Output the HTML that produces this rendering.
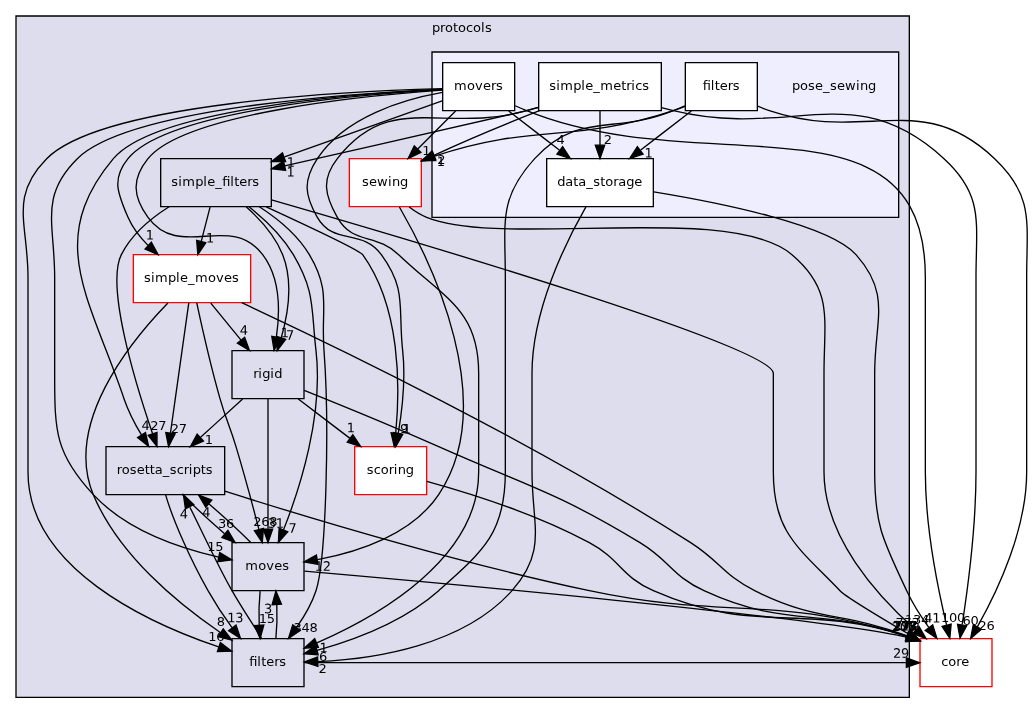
<!DOCTYPE html>
<html lang="en">
<head>
<meta charset="utf-8">
<title>source/src/protocols/pose_sewing directory dependency graph</title>
<style>
html,body{margin:0;padding:0;background:#fff;}
body{width:1033px;height:713px;overflow:hidden;}
svg{display:block;will-change:transform;}
svg text{font-family:"DejaVu Sans","Liberation Sans",sans-serif;font-size:9.75px;fill:#000;}
</style>
</head>
<body>
<svg width="1033px" height="713px"
 viewBox="0 0 774.75 534.75">
<desc>Directory dependency graph for pose_sewing. Cluster protocols contains simple_filters, sewing, simple_moves, rigid, rosetta_scripts, scoring, moves, filters and the cluster pose_sewing with movers, simple_metrics, filters, data_storage. External directory: core.</desc>
<g id="graph0" class="graph" transform="translate(4 531)">
<polygon fill="white" stroke="none" points="-4,4 -4,-531 770.5,-531 770.5,4 -4,4"/>
<g id="clust1" class="cluster">
<g><polygon fill="#ddddee" stroke="black" points="8,-8 8,-519 678,-519 678,-8 8,-8"/>
<text x="320 326 329.75 335.75 339.5 345.5 350.75 356.75 359.75" y="-507">protocols</text>
</g>
</g>
<g id="clust2" class="cluster">
<g><polygon fill="#eeeeff" stroke="black" points="320,-368 320,-492 670,-492 670,-368 320,-368"/>
</g>
</g>
<g id="node1" class="node">
<g><polygon fill="none" stroke="black" points="199.5,-412 116.5,-412 116.5,-376 199.5,-376 199.5,-412"/>
<text y="-391.5"><tspan x="124.438 129.688 132.688 142.438 148.438 151.438 157.438">simple_</tspan><tspan x="162.688">fi</tspan><tspan x="168.688 171.688 175.438 181.438 185.188">lters</tspan></text>
</g>
</g>
<g id="node3" class="node">
<g><polygon fill="white" stroke="red" points="184,-340 96,-340 96,-304 184,-304 184,-340"/>
<text x="104 109.25 112.25 122 128 131 137 142.25 152 158 164 170" y="-319.5">simple_moves</text>
</g>
</g>
<g id="edge1" class="edge">
<path fill="none" stroke="black" d="M153.55,-375.7C151.55,-367.9 149.13,-358.51 146.9,-349.83"/>
<polygon fill="black" stroke="black" points="150.28,-348.92 144.4,-340.1 143.5,-350.66 150.28,-348.92"/>
<text transform="matrix(1 .0005 0 1 150.5 -349.19)" x="0" y="0">1</text>
</g>
<g id="node4" class="node">
<g><polygon fill="none" stroke="black" points="224,-268 170,-268 170,-232 224,-232 224,-268"/>
<text x="185.938 189.688 192.688 198.688 201.688" y="-247.5">rigid</text>
</g>
</g>
<g id="edge2" class="edge">
<path fill="none" stroke="black" d="M180.6,-375.96C191.06,-366.63 202.4,-354.11 208,-340 215.92,-320.07 212.13,-295.82 206.94,-277.67"/>
<polygon fill="black" stroke="black" points="210.24,-276.51 203.89,-268.03 203.57,-278.62 210.24,-276.51"/>
<text transform="matrix(1 .0005 0 1 210.5 -276.205)" x="0" y="0">7</text>
</g>
<g id="node5" class="node">
<g><polygon fill="none" stroke="black" points="164.5,-196 75.5,-196 75.5,-160 164.5,-160 164.5,-196"/>
<text x="83.562 87.312 93.312 98.562 104.562 108.312 112.062 118.062 123.312 128.562 133.812 137.562 140.562 146.562 150.312" y="-175.5">rosetta_scripts</text>
</g>
</g>
<g id="edge3" class="edge">
<path fill="none" stroke="black" d="M122.83,-375.94C109.02,-367.25 94.65,-355.26 87,-340 75.35,-316.77 96.99,-245.09 110.44,-205.67"/>
<polygon fill="black" stroke="black" points="113.76,-206.75 113.74,-196.16 107.15,-204.46 113.76,-206.75"/>
<text x="108.688 114.688" y="-208.58">27</text>
</g>
<g id="node6" class="node">
<g><polygon fill="white" stroke="red" points="316,-196 262,-196 262,-160 316,-160 316,-196"/>
<text x="271.062 276.312 281.562 287.562 291.312 294.312 300.312" y="-175.5">scoring</text>
</g>
</g>
<g id="edge4" class="edge">
<path fill="none" stroke="black" d="M195.64,-375.9C226.54,-361.7 265.62,-343.3 268,-340 296.53,-300.52 296.11,-240.98 292.83,-206.45"/>
<polygon fill="black" stroke="black" points="296.27,-205.73 291.69,-196.18 289.31,-206.5 296.27,-205.73"/>
<text x="296" y="-206.5">9</text>
</g>
<g id="node7" class="node">
<g><polygon fill="none" stroke="black" points="224,-124 170,-124 170,-88 224,-88 224,-124"/>
<text x="179.938 189.688 195.688 201.688 207.688" y="-103.5">moves</text>
</g>
</g>
<g id="edge5" class="edge">
<path fill="none" stroke="black" d="M182.7,-375.97C194.45,-366.64 207.71,-354.11 216,-340 232.65,-311.65 229.2,-300.66 233,-268 238.59,-220 221.17,-165.33 208.65,-133.63"/>
<polygon fill="black" stroke="black" points="211.81,-132.12 204.79,-124.19 205.33,-134.77 211.81,-132.12"/>
<text transform="matrix(1 .0005 0 1 212.375 -131.505)" x="0" y="0">7</text>
</g>
<g id="node8" class="node">
<g><polygon fill="none" stroke="black" points="224,-52 170,-52 170,-16 224,-16 224,-52"/>
<text y="-31.5"><tspan x="182.938">fi</tspan><tspan x="188.938 191.938 195.688 201.688 205.438">lters</tspan></text>
</g>
</g>
<g id="edge6" class="edge">
<path fill="none" stroke="black" d="M190.51,-375.95C204.25,-367.07 219.11,-354.93 228,-340 244.56,-312.19 236.55,-300.28 239,-268 243.12,-213.8 240.81,-111.64 233,-88 229.79,-78.28 224.23,-68.7 218.43,-60.41"/>
<polygon fill="black" stroke="black" points="221.17,-58.23 212.39,-52.3 215.56,-62.41 221.17,-58.23"/>
<text x="216.125 222.125 228.125" y="-56.92">348</text>
</g>
<g id="node14" class="node">
<g><polygon fill="white" stroke="red" points="740,-52 686,-52 686,-16 740,-16 740,-52"/>
<text x="701.938 707.188 713.188 716.938" y="-31.5">core</text>
</g>
</g>
<g id="edge7" class="edge">
<path fill="none" stroke="black" d="M199.61,-381.12C305.34,-350.66 576,-270.74 576,-251 576,-251 576,-251 576,-177 576,-131.63 594.49,-120.64 626,-88 630.21,-83.64 654.87,-68.75 676.86,-55.85"/>
<polygon fill="black" stroke="black" points="678.87,-58.74 685.74,-50.67 675.34,-52.69 678.87,-58.74"/>
<text transform="matrix(1 .0005 0 1 667.625 -60.312)" x="0 6 12" y="0">773</text>
</g>
<g id="node2" class="node">
<g><polygon fill="white" stroke="red" points="312,-412 258,-412 258,-376 312,-376 312,-412"/>
<text x="267.5 272.75 278.75 287 290 296" y="-391.5">sewing</text>
</g>
</g>
<g id="edge8" class="edge">
<path fill="none" stroke="black" d="M295.56,-375.78C319.27,-334.67 371.18,-229.1 325,-160 304.92,-129.95 264.3,-116.91 234.18,-111.28"/>
<polygon fill="black" stroke="black" points="234.46,-107.77 224.02,-109.57 233.3,-114.68 234.46,-107.77"/>
<text transform="matrix(1 .0005 0 1 232.062 -102.882)" x="0 6" y="0">12</text>
</g>
<g id="edge9" class="edge">
<path fill="none" stroke="black" d="M302.89,-375.76C306.93,-372.7 311.4,-369.89 316,-368 372.6,-344.72 543.37,-379.65 590,-340 621.21,-313.46 614,-291.97 614,-251 614,-251 614,-251 614,-177 614,-128.38 653.54,-84.5 682.65,-58.78"/>
<polygon fill="black" stroke="black" points="685.22,-61.19 690.54,-52.03 680.66,-55.87 685.22,-61.19"/>
<text x="674.75 680.75 686.75" y="-63.18">134</text>
</g>
<g id="edge10" class="edge">
<path fill="none" stroke="black" d="M154.09,-303.7C160.92,-295.3 169.26,-285.07 176.76,-275.86"/>
<polygon fill="black" stroke="black" points="179.47,-278.07 183.07,-268.1 174.04,-273.65 179.47,-278.07"/>
<text transform="matrix(1 .0005 0 1 175.812 -279.962)" x="0" y="0">4</text>
</g>
<g id="edge11" class="edge">
<path fill="none" stroke="black" d="M137.59,-303.87C134.18,-279.67 127.92,-235.21 123.86,-206.39"/>
<polygon fill="black" stroke="black" points="127.28,-205.6 122.42,-196.19 120.35,-206.58 127.28,-205.6"/>
<text x="124.062 130.062" y="-206.27">27</text>
</g>
<g id="edge12" class="edge">
<path fill="none" stroke="black" d="M143.57,-303.82C147.43,-285.81 153.97,-256.74 161,-232 165.61,-215.78 168.14,-212.15 173,-196 179.19,-175.44 185.49,-151.99 190.07,-134.32"/>
<polygon fill="black" stroke="black" points="193.59,-134.7 192.69,-124.15 186.81,-132.96 193.59,-134.7"/>
<text x="185.938 191.938 197.938" y="-136.39">268</text>
</g>
<g id="edge13" class="edge">
<path fill="none" stroke="black" d="M121.93,-303.78C93.52,-274.52 43.8,-213.07 66,-160 84.9,-114.8 129.34,-78.31 161.22,-56.67"/>
<polygon fill="black" stroke="black" points="163.43,-59.4 169.84,-50.97 159.57,-53.57 163.43,-59.4"/>
<text x="158.562" y="-61.26">8</text>
</g>
<g id="edge14" class="edge">
<path fill="none" stroke="black" d="M177.26,-303.97C245.88,-272.06 395.98,-199.62 514,-124 536.45,-109.61 538.19,-100.02 562,-88 608.79,-64.38 628.31,-72.39 676.44,-54.08"/>
<polygon fill="black" stroke="black" points="677.79,-57.31 685.77,-50.34 675.19,-50.81 677.79,-57.31"/>
<text x="665.938 671.938 677.938" y="-58.78">798</text>
</g>
<g id="edge15" class="edge">
<path fill="none" stroke="black" d="M177.97,-231.7C168.46,-223.05 156.79,-212.45 146.43,-203.03"/>
<polygon fill="black" stroke="black" points="148.57,-200.24 138.81,-196.1 143.86,-205.42 148.57,-200.24"/>
<text x="149.562" y="-198.06">1</text>
</g>
<g id="edge16" class="edge">
<path fill="none" stroke="black" d="M219.74,-231.7C231.44,-222.8 245.86,-211.82 258.51,-202.2"/>
<polygon fill="black" stroke="black" points="260.68,-204.94 266.52,-196.1 256.44,-199.37 260.68,-204.94"/>
<text transform="matrix(1 .0005 0 1 256.062 -206.88)" x="0" y="0">1</text>
</g>
<g id="edge17" class="edge">
<path fill="none" stroke="black" d="M197,-231.87C197,-207.67 197,-163.21 197,-134.39"/>
<polygon fill="black" stroke="black" points="200.5,-134.19 197,-124.19 193.5,-134.19 200.5,-134.19"/>
<text transform="matrix(1 .0005 0 1 196.812 -135.28)" x="0 6" y="0">31</text>
</g>
<g id="edge18" class="edge">
<path fill="none" stroke="black" d="M224.14,-238.24C250.17,-227.81 290.5,-211.35 325,-196 392.93,-165.77 412.39,-162.49 476,-124 498.81,-110.19 499.8,-99.21 524,-88 586.29,-59.15 612.21,-75.81 676.1,-53.96"/>
<polygon fill="black" stroke="black" points="677.6,-57.14 685.81,-50.44 675.22,-50.55 677.6,-57.14"/>
<text x="665.75 671.75 677.75" y="-58.53">277</text>
</g>
<g id="edge19" class="edge">
<path fill="none" stroke="black" d="M133.12,-159.7C141.82,-150.97 153.45,-140.24 164.44,-130.75"/>
<polygon fill="black" stroke="black" points="166.92,-133.24 172.29,-124.1 162.4,-127.9 166.92,-133.24"/>
<text x="159.5 165.5" y="-135.23">36</text>
</g>
<g id="edge20" class="edge">
<path fill="none" stroke="black" d="M120.22,-159.86C125.47,-141.62 138.36,-112.14 152,-88 157.25,-78.7 163.63,-68.92 170.02,-60.33"/>
<polygon fill="black" stroke="black" points="172.98,-62.24 176.38,-52.2 167.46,-57.93 172.98,-62.24"/>
<text transform="matrix(1 .0005 0 1 166.438 -64.32)" x="0 6" y="0">13</text>
</g>
<g id="edge21" class="edge">
<path fill="none" stroke="black" d="M164.58,-162.59C225.69,-143.29 339.17,-109.03 438,-88 541.97,-65.87 576.03,-85.63 676.27,-53.71"/>
<polygon fill="black" stroke="black" points="677.44,-57.01 685.86,-50.57 675.26,-50.36 677.44,-57.01"/>
<text x="665.375 671.375 677.375" y="-58.33">172</text>
</g>
<g id="edge22" class="edge">
<path fill="none" stroke="black" d="M316.13,-170.02C346.81,-161.54 397.72,-145.62 438,-124 461.5,-111.39 461.57,-98.69 486,-88 564.13,-53.8 596.15,-79.6 676.34,-53.74"/>
<polygon fill="black" stroke="black" points="677.49,-57.04 685.84,-50.51 675.24,-50.42 677.49,-57.04"/>
<text transform="matrix(1 .0005 0 1 665.562 -58.203)" x="0 6 12" y="0">213</text>
</g>
<g id="edge23" class="edge">
<path fill="none" stroke="black" d="M184.08,-124.1C175.42,-132.8 163.81,-143.52 152.81,-153.03"/>
<polygon fill="black" stroke="black" points="150.31,-150.56 144.95,-159.7 154.84,-155.9 150.31,-150.56"/>
<text transform="matrix(1 .0005 0 1 147.688 -143.382)" x="0" y="0">4</text>
</g>
<g id="edge24" class="edge">
<path fill="none" stroke="black" d="M191.08,-87.7C190.29,-79.98 190.06,-70.71 190.4,-62.11"/>
<polygon fill="black" stroke="black" points="193.9,-62.32 191.1,-52.1 186.92,-61.84 193.9,-62.32"/>
<text x="190.062 196.062" y="-63.61">15</text>
</g>
<g id="edge25" class="edge">
<path fill="none" stroke="black" d="M224.29,-102.65C315.11,-94.73 605.25,-68.76 676.15,-53.14"/>
<polygon fill="black" stroke="black" points="677.07,-56.51 685.88,-50.63 675.32,-49.73 677.07,-56.51"/>
<text x="664.812 670.812 676.812" y="-57.66">203</text>
</g>
<g id="edge26" class="edge">
<path fill="none" stroke="black" d="M192.13,-52.2C186,-62.35 177,-75.6 170,-88 158.49,-108.37 147.52,-132.54 138.43,-150.55"/>
<polygon fill="black" stroke="black" points="135.09,-149.37 133.58,-159.86 141.3,-152.6 135.09,-149.37"/>
<text transform="matrix(1 .0005 0 1 130.812 -142.183)" x="0" y="0">4</text>
</g>
<g id="edge27" class="edge">
<path fill="none" stroke="black" d="M202.9,-52.1C203.7,-59.79 203.94,-69.05 203.6,-77.67"/>
<polygon fill="black" stroke="black" points="200.11,-77.48 202.92,-87.7 207.09,-77.96 200.11,-77.48"/>
<text transform="matrix(1 .0005 0 1 194 -71.013)" x="0" y="0">3</text>
</g>
<g id="edge28" class="edge">
<path fill="none" stroke="black" d="M224.21,-34C374.62,-34 525.02,-34 675.42,-34"/>
<polygon fill="black" stroke="black" points="675.79,-37.5 685.79,-34 675.79,-30.5 675.79,-37.5"/>
<text transform="matrix(1 .0005 0 1 665.75 -37.653)" x="0 6" y="0">29</text>
</g>
<g id="node9" class="node">
<text x="590 596 602 607.25 613.25 618.5 623.75 629.75 638 641 647" y="-463.5">pose_sewing</text>
</g>
<g id="node10" class="node">
<g><polygon fill="white" stroke="black" points="486,-412 406,-412 406,-376 486,-376 486,-412"/>
<text x="413.938 419.938 425.938 429.688 435.688 440.938 446.188 449.938 455.938 459.688 465.688 471.688" y="-391.5">data_storage</text>
</g>
</g>
<g id="edge29" class="edge">
<path fill="none" stroke="black" d="M435.43,-375.79C420.49,-349.77 395,-298.41 395,-251 395,-251 395,-251 395,-177 395,-136.89 406.69,-117.95 380,-88 343.18,-46.68 276.31,-36.73 234.41,-34.8"/>
<polygon fill="black" stroke="black" points="234.44,-31.3 224.33,-34.47 234.21,-38.29 234.44,-31.3"/>
<text x="234.875" y="-26.08">2</text>
</g>
<g id="edge30" class="edge">
<path fill="none" stroke="black" d="M486.31,-387.08C536.47,-378.86 617.97,-362.44 638,-340 664.67,-310.13 652,-291.04 652,-251 652,-251 652,-251 652,-177 652,-136.03 658.68,-125.13 676,-88 680.44,-78.49 686.57,-68.85 692.57,-60.46"/>
<polygon fill="black" stroke="black" points="695.54,-62.32 698.69,-52.21 689.92,-58.15 695.54,-62.32"/>
<text transform="matrix(1 .0005 0 1 689.188 -64.213)" x="0 6" y="0">41</text>
</g>
<g id="node11" class="node">
<g><polygon fill="white" stroke="black" points="564,-484 510,-484 510,-448 564,-448 564,-484"/>
<text y="-463.5"><tspan x="523.062">fi</tspan><tspan x="529.062 532.062 535.812 541.812 545.562">lters</tspan></text>
</g>
</g>
<g id="edge32" class="edge">
<path fill="none" stroke="black" d="M509.77,-451.28C506.85,-450.07 503.89,-448.95 501,-448 424.67,-422.98 397.05,-439.03 322.06,-413.95"/>
<polygon fill="black" stroke="black" points="322.76,-410.48 312.17,-410.49 320.46,-417.09 322.76,-410.48"/>
<text x="323.562" y="-406.49">1</text>
</g>
<g id="edge33" class="edge">
<path fill="none" stroke="black" d="M509.62,-451.7C506.73,-450.4 503.82,-449.15 501,-448 455.71,-429.53 429.98,-448.12 397,-412 369.53,-381.91 375,-363.75 375,-323 375,-323 375,-323 375,-177 375,-131.63 358.94,-118.11 325,-88 298.96,-64.9 261.46,-50.98 233.77,-43.24"/>
<polygon fill="black" stroke="black" points="234.62,-39.84 224.05,-40.66 232.82,-46.61 234.62,-39.84"/>
<text x="235.25" y="-35.52">6</text>
</g>
<g id="edge31" class="edge">
<path fill="none" stroke="black" d="M514.51,-447.7C503.04,-438.88 488.94,-428.03 476.52,-418.47"/>
<polygon fill="black" stroke="black" points="478.3,-415.43 468.24,-412.1 474.03,-420.98 478.3,-415.43"/>
<text transform="matrix(1 .0005 0 1 479.375 -412.87)" x="0" y="0">1</text>
</g>
<g id="edge34" class="edge">
<path fill="none" stroke="black" d="M564.25,-451.33C567.16,-450.11 570.12,-448.97 573,-448 645.76,-423.44 686.26,-464.83 742,-412 771.73,-383.82 766,-363.97 766,-323 766,-323 766,-323 766,-177 766,-134.21 744.61,-88.48 729.01,-60.82"/>
<polygon fill="black" stroke="black" points="732.03,-59.05 723.98,-52.16 725.98,-62.56 732.03,-59.05"/>
<text x="729.875 735.875" y="-58.23">26</text>
</g>
<g id="node12" class="node">
<g><polygon fill="white" stroke="black" points="382,-484 328,-484 328,-448 382,-448 382,-484"/>
<text x="336.5 346.25 352.25 358.25 364.25 368" y="-463.5">movers</text>
</g>
</g>
<g id="edge36" class="edge">
<path fill="none" stroke="black" d="M327.61,-455.27C297.13,-444.44 247.22,-426.7 209.41,-413.27"/>
<polygon fill="black" stroke="black" points="210.18,-409.83 199.58,-409.78 207.83,-416.42 210.18,-409.83"/>
<text transform="matrix(1 .0005 0 1 211.062 -405.85)" x="0" y="0">1</text>
</g>
<g id="edge37" class="edge">
<path fill="none" stroke="black" d="M337.7,-447.7C329.14,-439.14 318.66,-428.66 309.3,-419.3"/>
<polygon fill="black" stroke="black" points="311.65,-416.7 302.1,-412.1 306.7,-421.65 311.65,-416.7"/>
<text x="312.688" y="-414.73">1</text>
</g>
<g id="edge38" class="edge">
<path fill="none" stroke="black" d="M327.9,-463.73C266.87,-460.24 121.65,-448.22 92,-412 79.61,-396.87 84.23,-385.94 92,-368 95.43,-360.09 101,-352.93 107.17,-346.77"/>
<polygon fill="black" stroke="black" points="109.55,-349.34 114.58,-340.01 104.83,-344.17 109.55,-349.34"/>
<text transform="matrix(1 .0005 0 1 105.312 -351.36)" x="0" y="0">1</text>
</g>
<g id="edge39" class="edge">
<path fill="none" stroke="black" d="M327.69,-463.35C269.13,-459.19 134.55,-446.06 107,-412 94.7,-396.8 95.51,-383.82 107,-368 130.62,-335.47 168.66,-371.99 193,-340 206.2,-322.66 206.08,-297.44 203.3,-278.28"/>
<polygon fill="black" stroke="black" points="206.74,-277.58 201.56,-268.34 199.84,-278.79 206.74,-277.58"/>
<text transform="matrix(1 .0005 0 1 206.562 -278.13)" x="0" y="0">1</text>
</g>
<g id="edge40" class="edge">
<path fill="none" stroke="black" d="M327.76,-463.93C264.85,-460.83 112.41,-449.53 81,-412 29.61,-350.59 63.29,-307.84 89,-232 92.17,-222.66 97.09,-213.15 102.1,-204.81"/>
<polygon fill="black" stroke="black" points="105.1,-206.61 107.47,-196.28 99.18,-202.87 105.1,-206.61"/>
<text transform="matrix(1 .0005 0 1 102.125 -208.472)" x="0" y="0">4</text>
</g>
<g id="edge41" class="edge">
<path fill="none" stroke="black" d="M327.85,-461.68C298.99,-456.54 254.71,-443.67 234,-412 223.3,-395.63 224.26,-384.96 234,-368 246.3,-346.58 267.44,-359.95 282,-340 301.33,-313.53 294.42,-300.58 298,-268 300.27,-247.29 297.69,-223.84 294.72,-206.22"/>
<polygon fill="black" stroke="black" points="298.11,-205.28 292.86,-196.07 291.22,-206.54 298.11,-205.28"/>
<text transform="matrix(1 .0005 0 1 298.062 -205.8)" x="0" y="0">1</text>
</g>
<g id="edge42" class="edge">
<path fill="none" stroke="black" d="M327.56,-464.03C260.8,-461.09 92.55,-449.99 54,-412 25.32,-383.73 37,-363.27 37,-323 37,-323 37,-323 37,-249 37,-207.4 37.62,-190.42 66,-160 90.78,-133.44 130.71,-119.88 159.98,-113.16"/>
<polygon fill="black" stroke="black" points="160.79,-116.56 169.84,-111.06 159.34,-109.72 160.79,-116.56"/>
<text x="151.438 157.438" y="-117.59">15</text>
</g>
<g id="edge43" class="edge">
<path fill="none" stroke="black" d="M328,-464.5C257.86,-462.63 72.49,-453.74 31,-412 2.77,-383.6 17,-363.04 17,-323 17,-323 17,-323 17,-177 17,-104.83 107.29,-63.66 159.98,-45.78"/>
<polygon fill="black" stroke="black" points="161.25,-49.05 169.66,-42.61 159.07,-42.39 161.25,-49.05"/>
<text x="152.188 158.188" y="-50.36">16</text>
</g>
<g id="edge35" class="edge">
<path fill="none" stroke="black" d="M377.49,-447.7C388.96,-438.88 403.06,-428.03 415.48,-418.47"/>
<polygon fill="black" stroke="black" points="417.97,-420.98 423.76,-412.1 413.7,-415.43 417.97,-420.98"/>
<text x="413.375" y="-422.92">4</text>
</g>
<g id="edge44" class="edge">
<path fill="none" stroke="black" d="M382.38,-451.7C385.27,-450.4 388.18,-449.15 391,-448 524.37,-393.61 690,-467.03 690,-323 690,-323 690,-323 690,-177 690,-136.7 699.14,-90.78 705.9,-62.34"/>
<polygon fill="black" stroke="black" points="709.37,-62.89 708.35,-52.34 702.57,-61.22 709.37,-62.89"/>
<text x="701.75 707.75 713.75" y="-64.55">100</text>
</g>
<g id="node13" class="node">
<g><polygon fill="white" stroke="black" points="492,-484 400,-484 400,-448 492,-448 492,-484"/>
<text x="407.938 413.188 416.188 425.938 431.938 434.938 440.938 446.188 455.938 461.938 465.688 469.438 472.438 477.688" y="-463.5">simple_metrics</text>
</g>
</g>
<g id="edge46" class="edge">
<path fill="none" stroke="black" d="M399.86,-450.46C396.87,-449.6 393.9,-448.78 391,-448 382.19,-445.64 275.4,-421.48 209.5,-406.61"/>
<polygon fill="black" stroke="black" points="210.21,-403.18 199.69,-404.4 208.67,-410.01 210.21,-403.18"/>
<text transform="matrix(1 .0005 0 1 210.875 -398.7)" x="0" y="0">1</text>
</g>
<g id="edge47" class="edge">
<path fill="none" stroke="black" d="M400.63,-447.97C377.86,-439.1 349.76,-427.66 321.48,-414.52"/>
<polygon fill="black" stroke="black" points="322.83,-411.28 312.3,-410.19 319.85,-417.62 322.83,-411.28"/>
<text x="323.938" y="-407.75">2</text>
</g>
<g id="edge48" class="edge">
<path fill="none" stroke="black" d="M399.84,-450.54C396.85,-449.67 393.89,-448.81 391,-448 328.32,-430.38 288.98,-463.38 249,-412 236.99,-396.57 239.42,-385.05 249,-368 260.73,-347.14 277.69,-356.53 295,-340 329.51,-307.06 355,-298.7 355,-251 355,-251 355,-251 355,-177 355,-112.1 280.34,-69.32 233.66,-48.92"/>
<polygon fill="black" stroke="black" points="234.73,-45.58 224.16,-44.91 232.01,-52.03 234.73,-45.58"/>
<text transform="matrix(1 .0005 0 1 235.625 -41.86)" x="0" y="0">1</text>
</g>
<g id="edge45" class="edge">
<path fill="none" stroke="black" d="M446,-447.7C446,-439.98 446,-430.71 446,-422.11"/>
<polygon fill="black" stroke="black" points="449.5,-422.1 446,-412.1 442.5,-422.1 449.5,-422.1"/>
<text x="448.812" y="-423.2">2</text>
</g>
<g id="edge49" class="edge">
<path fill="none" stroke="black" d="M492.1,-450.3C495.1,-449.48 498.09,-448.71 501,-448 590.05,-426.43 636.42,-473.88 704,-412 734.21,-384.33 728,-363.97 728,-323 728,-323 728,-323 728,-177 728,-136.99 722.04,-91 717.63,-62.46"/>
<polygon fill="black" stroke="black" points="721.06,-61.75 716.04,-52.43 714.15,-62.85 721.06,-61.75"/>
<text x="717.875 723.875" y="-62.36">60</text>
</g>
</g>
</svg>
</body>
</html>
